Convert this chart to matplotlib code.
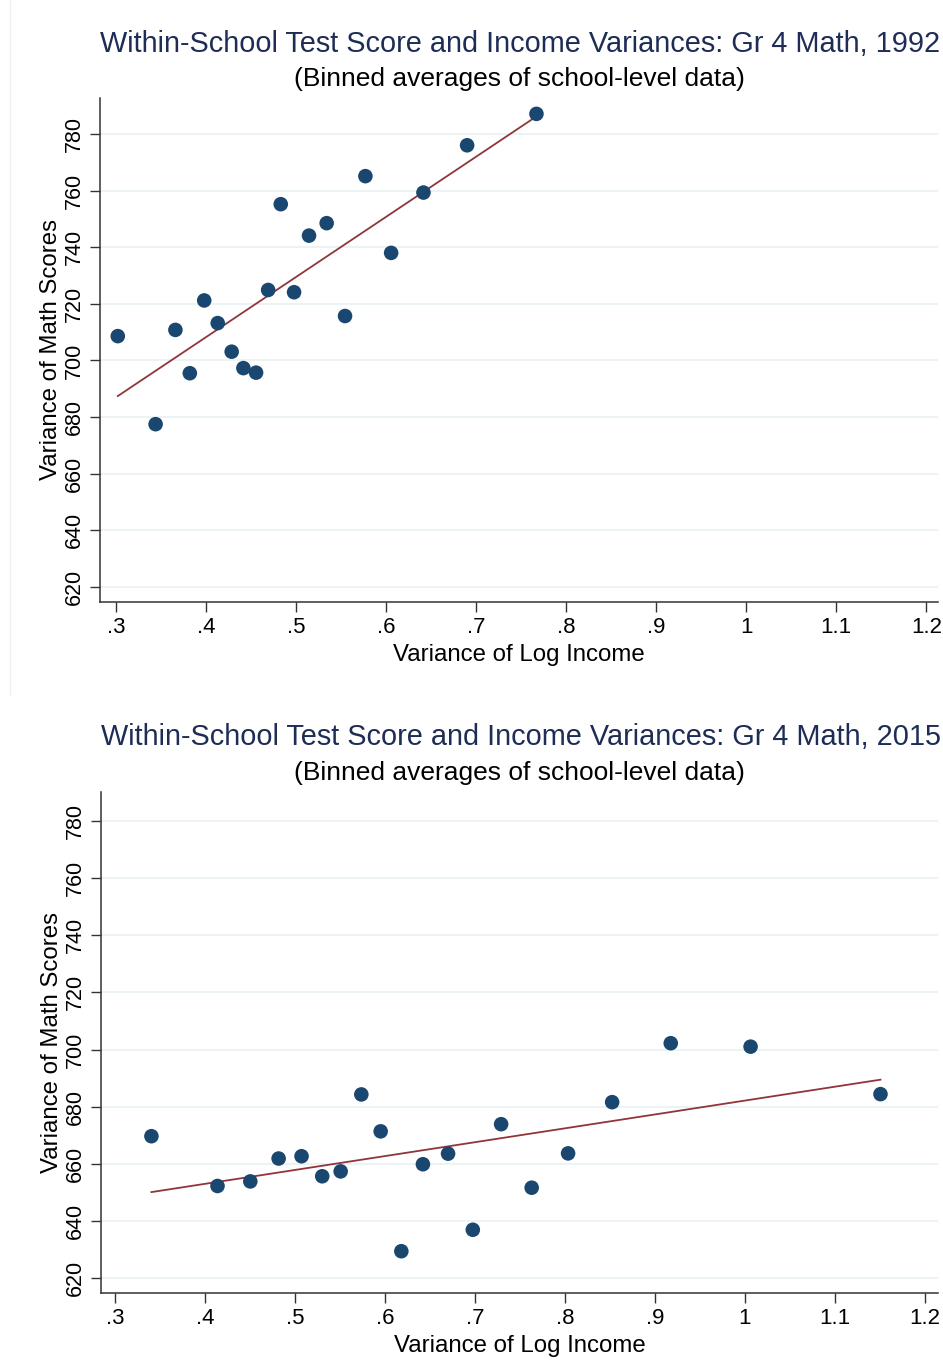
import matplotlib
matplotlib.use('Agg')
import matplotlib.pyplot as plt
import numpy as np
from matplotlib.lines import Line2D

# Binned averages, 1992
x_1992 = [0.302, 0.344, 0.366, 0.382, 0.398, 0.413, 0.4285, 0.4415, 0.4556, 0.469,
          0.483, 0.4978, 0.5144, 0.534, 0.5544, 0.577, 0.6056, 0.6415, 0.690, 0.767]
y_1992 = [708.6, 677.5, 710.8, 695.5, 721.2, 713.2, 703.1, 697.3, 695.7, 724.9,
          755.2, 724.1, 744.1, 748.5, 715.7, 765.1, 738.0, 759.3, 776.0, 787.1]

# Binned averages, 2015
x_2015 = [0.340, 0.4135, 0.450, 0.4815, 0.507, 0.530, 0.5505, 0.5735, 0.595, 0.618,
          0.642, 0.670, 0.6975, 0.729, 0.763, 0.8035, 0.8525, 0.9177, 1.0065, 1.151]
y_2015 = [669.7, 652.3, 653.9, 661.9, 662.7, 655.7, 657.4, 684.3, 671.4, 629.5,
          659.9, 663.6, 637.0, 673.9, 651.7, 663.7, 681.6, 702.2, 701.0, 684.4]

years = ['1992', '2015']
x_ticks = [0.3, 0.4, 0.5, 0.6, 0.7, 0.8, 0.9, 1.0, 1.1, 1.2]
x_tick_labels = ['.3', '.4', '.5', '.6', '.7', '.8', '.9', '1', '1.1', '1.2']
y_ticks = [620, 640, 660, 680, 700, 720, 740, 760, 780]

plt.rcParams['font.family'] = ['Liberation Sans', 'DejaVu Sans']

navy = '#1a476f'
maroon = '#90353b'
title_col = '#1e2d55'


def draw_panel(ax, fig, xs, ys, year, title_y, sub_y, xlim, ylim):
    ax.set_xlim(*xlim)
    ax.set_ylim(*ylim)
    for yt in y_ticks:
        ax.axhline(yt, color='#eaf2f3', lw=1.3, zorder=0)
    ax.scatter(xs, ys, s=110, color=navy, edgecolors='none', zorder=3)

    # linear fit
    b, a = np.polyfit(xs, ys, 1)
    xf = np.array([min(xs), max(xs)])
    ax.plot(xf, a + b * xf, color=maroon, lw=1.3, zorder=2)

    ax.set_xticks(x_ticks)
    ax.set_xticklabels(x_tick_labels, fontsize=16)
    ax.set_yticks(y_ticks)
    ax.set_yticklabels([str(v) for v in y_ticks], fontsize=15.5, rotation=90, va='center')
    ax.tick_params(direction='out', length=7, width=1, color='#333333', pad=4)
    for s in ['top', 'right']:
        ax.spines[s].set_visible(False)
    for s in ['left', 'bottom']:
        ax.spines[s].set_color('#333333')
        ax.spines[s].set_linewidth(1.1)
    ax.set_xlabel('Variance of Log Income', fontsize=17.3, labelpad=4)
    ax.set_ylabel('Variance of Math Scores', fontsize=17.3, labelpad=1)

    fig.text(0.552, title_y,
             'Within-School Test Score and Income Variances: Gr 4 Math, ' + year,
             ha='center', va='center', fontsize=20.8, color=title_col)
    fig.text(0.551, sub_y, '(Binned averages of school-level data)',
             ha='center', va='center', fontsize=19, color='black')


fig = plt.figure(figsize=(9.43, 13.61), dpi=100)

ax1 = fig.add_axes([0.106, 1 - 602 / 1361, 0.889, 504 / 1361])
draw_panel(ax1, fig, x_1992, y_1992, years[0], 1 - 44 / 1361, 1 - 79 / 1361,
           (0.2822, 1.2133), (614.7, 792.7))

ax2 = fig.add_axes([0.107, 1 - 1293 / 1361, 0.888, 501 / 1361])
draw_panel(ax2, fig, x_2015, y_2015, years[1], 1 - 737 / 1361, 1 - 773 / 1361,
           (0.2838, 1.2153), (614.9, 790.0))

# faint border left over from the original page
fig.add_artist(Line2D([10 / 943, 10 / 943], [1 - 695 / 1361, 1.0],
                      color='#f0f0f0', lw=1))

fig.savefig('out.png', dpi=100)
